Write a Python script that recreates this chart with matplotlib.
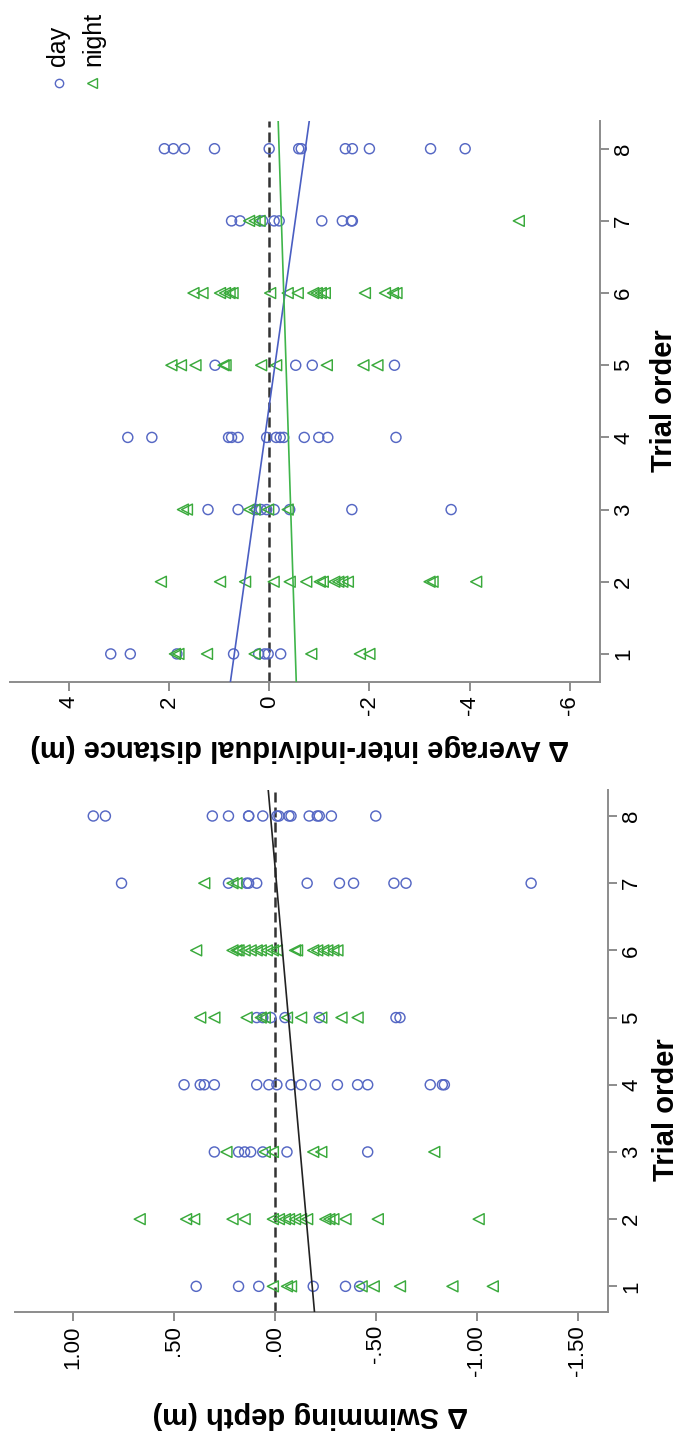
import matplotlib
matplotlib.use("Agg")
import matplotlib.pyplot as plt
import numpy as np
from matplotlib.lines import Line2D

plt.rcParams["font.family"] = ["Liberation Sans", "DejaVu Sans"]

trials = [1, 2, 3, 4, 5, 6, 7, 8]

# delta average inter-individual distance (m), one list per trial order
dist_day = [
    [3.16, 2.77, 1.84, 0.71, 0.21, 0.09, 0.02, -0.23],
    [],
    [1.22, 0.62, 0.25, 0.16, 0.05, -0.10, -0.41, -1.65, -3.63],
    [2.82, 2.34, 0.81, 0.75, 0.62, 0.05, -0.14, -0.22, -0.29, -0.70, -0.99, -1.17, -2.53],
    [1.08, -0.53, -0.86, -2.50],
    [],
    [0.75, 0.58, 0.13, -0.10, -0.20, -1.05, -1.46, -1.64, -1.66],
    [2.09, 1.91, 1.69, 1.09, 0.00, -0.59, -0.64, -1.52, -1.66, -2.00, -3.22, -3.91],
]
dist_night = [
    [1.88, 1.81, 1.24, 0.29, -0.84, -1.81, -2.00],
    [2.16, 0.98, 0.48, -0.09, -0.41, -0.74, -1.01, -1.07, -1.30, -1.38, -1.46, -1.57,
     -3.20, -3.26, -4.13],
    [1.72, 1.64, 0.40, 0.29, 0.02, -0.37],
    [],
    [1.95, 1.76, 1.47, 0.91, 0.87, 0.16, -0.14, -1.15, -1.88, -2.16],
    [1.51, 1.33, 0.98, 0.88, 0.79, 0.73, -0.02, -0.37, -0.57, -0.88, -0.95, -1.03, -1.11,
     -1.91, -2.31, -2.47, -2.54],
    [0.40, 0.29, 0.19, -4.98],
    [],
]

# delta swimming depth (m)
depth_day = [
    [0.39, 0.18, 0.08, -0.19, -0.35, -0.42],
    [],
    [0.30, 0.18, 0.15, 0.12, 0.06, -0.06, -0.46],
    [0.45, 0.37, 0.35, 0.30, 0.09, 0.03, -0.01, -0.08, -0.13, -0.20, -0.31, -0.41, -0.46,
     -0.77, -0.83, -0.84],
    [0.09, 0.06, 0.02, -0.05, -0.22, -0.60, -0.62],
    [],
    [0.76, 0.23, 0.14, 0.13, 0.09, -0.16, -0.32, -0.39, -0.59, -0.65, -1.27],
    [0.90, 0.84, 0.31, 0.23, 0.13, 0.13, 0.06, -0.01, -0.02, -0.07, -0.08, -0.17, -0.21,
     -0.22, -0.28, -0.50],
]
depth_night = [
    [0.01, -0.06, -0.08, -0.43, -0.49, -0.62, -0.88, -1.08],
    [0.67, 0.44, 0.40, 0.21, 0.15, 0.01, -0.02, -0.05, -0.07, -0.10, -0.13, -0.16, -0.25,
     -0.27, -0.29, -0.35, -0.51, -1.01],
    [0.24, 0.05, 0.01, -0.19, -0.23, -0.79],
    [],
    [0.37, 0.30, 0.14, 0.07, 0.05, -0.06, -0.13, -0.23, -0.33, -0.41],
    [0.39, 0.21, 0.19, 0.18, 0.15, 0.12, 0.09, 0.07, 0.04, 0.01, -0.01, -0.10, -0.11, -0.19,
     -0.21, -0.24, -0.26, -0.29, -0.31],
    [0.35, 0.21, 0.19],
    [],
]

# fitted lines (intercept, slope against trial order)
dist_day_fit = (0.897, -0.2024)
dist_night_fit = (-0.569, 0.0464)
depth_fit = (-0.2145, 0.0295)

dist_ticks = [4, 2, 0, -2, -4, -6]
dist_tick_labels = ["4", "2", "0", "-2", "-4", "-6"]
depth_ticks = [1.0, 0.5, 0.0, -0.5, -1.0, -1.5]
depth_tick_labels = ["1.00", ".50", ".00", "-.50", "-1.00", "-1.50"]

BLUE = "#5668c4"
GREEN = "#3aaa3c"
LINE_BLUE = "#4a5ec2"
LINE_GREEN = "#3fb54a"
AXIS_GRAY = "#8c8c8c"

W, H = 694, 1438


def fx(px):
    return px / W


def fy(py):
    return 1 - py / H


def flatten(groups):
    vals, ts = [], []
    for t, g in zip(trials, groups):
        vals.extend(g)
        ts.extend([t] * len(g))
    return np.array(vals), np.array(ts)


def style_axes(ax, ticks, labels):
    for side in ("top", "left"):
        ax.spines[side].set_visible(False)
    for side in ("bottom", "right"):
        ax.spines[side].set_color(AXIS_GRAY)
        ax.spines[side].set_linewidth(1.4)
    ax.yaxis.tick_right()
    ax.set_xticks(ticks)
    ax.set_xticklabels(labels, rotation=90, fontsize=16)
    ax.set_yticks(trials)
    ax.set_yticklabels([str(t) for t in trials], rotation=90, va="center", fontsize=16)
    ax.tick_params(axis="both", direction="out", length=6.5, width=1.4, color=AXIS_GRAY, pad=3)


def draw_points(ax, day, night):
    v, t = flatten(day)
    ax.scatter(v, t, marker="o", s=52, facecolors="none", edgecolors=BLUE, linewidths=1.05, zorder=3)
    v, t = flatten(night)
    ax.scatter(v, t, marker="<", s=62, facecolors="none", edgecolors=GREEN, linewidths=1.05, zorder=3)
    ax.axvline(0, color="#333333", lw=1.8, dashes=(4.0, 2.0), zorder=2)


def draw_fit(ax, fit, color):
    t = np.array(ax.get_ylim())
    ax.plot(fit[0] + fit[1] * t, t, color=color, lw=1.2, zorder=4)


fig = plt.figure(figsize=(W / 100, H / 100), dpi=100)

# top panel: inter-individual distance
ax1 = fig.add_axes([fx(10), fy(682), fx(600) - fx(10), fy(121) - fy(682)])
draw_points(ax1, dist_day, dist_night)
ax1.set_xlim(5.17, -6.60)
ax1.set_ylim(0.611, 8.384)
draw_fit(ax1, dist_day_fit, LINE_BLUE)
draw_fit(ax1, dist_night_fit, LINE_GREEN)
style_axes(ax1, dist_ticks, dist_tick_labels)

# bottom panel: swimming depth
ax2 = fig.add_axes([fx(15), fy(1312), fx(608) - fx(15), fy(790) - fy(1312)])
draw_points(ax2, depth_day, depth_night)
ax2.set_xlim(1.288, -1.651)
ax2.set_ylim(0.618, 8.387)
draw_fit(ax2, depth_fit, "#222222")
style_axes(ax2, depth_ticks, depth_tick_labels)

fig.text(fx(300), fy(748), "\u0394 Average inter-individual distance (m)", rotation=180,
         ha="center", va="center", fontsize=21, fontweight="bold")
fig.text(fx(310), fy(1415), "\u0394 Swimming depth (m)", rotation=180,
         ha="center", va="center", fontsize=21, fontweight="bold")
fig.text(fx(664), fy(401), "Trial order", rotation=90, ha="center", va="center",
         fontsize=21, fontweight="bold")
fig.text(fx(666), fy(1110), "Trial order", rotation=90, ha="center", va="center",
         fontsize=21, fontweight="bold")

# legend, drawn by hand so that it can be turned with the rest of the chart
fig.add_artist(Line2D([fx(59)], [fy(83)], transform=fig.transFigure, marker="o", ms=6,
                      mfc="none", mec=BLUE, mew=1.0, lw=0))
fig.add_artist(Line2D([fx(92)], [fy(83)], transform=fig.transFigure, marker="<", ms=7,
                      mfc="none", mec=GREEN, mew=1.0, lw=0))
fig.text(fx(58), fy(66), "day", rotation=90, ha="center", va="bottom", fontsize=18)
fig.text(fx(93), fy(66), "night", rotation=90, ha="center", va="bottom", fontsize=18)

fig.savefig("out.png", dpi=100)
